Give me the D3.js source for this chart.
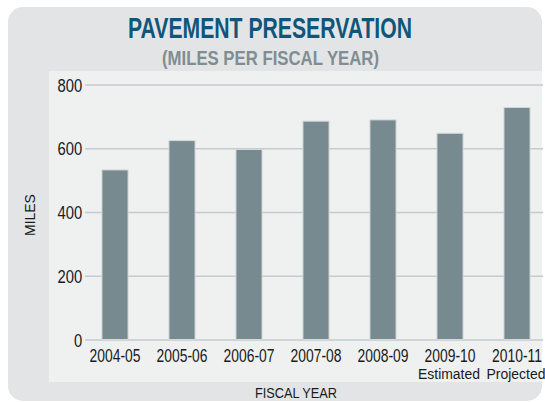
<!DOCTYPE html>
<html>
<head>
<meta charset="utf-8">
<script src="https://cdn.jsdelivr.net/npm/d3@7"></script>
<style>
  body { margin: 0; background: #fff; }
  text { font-family: "Liberation Sans", Arial, sans-serif; }
</style>
</head>
<body>
<div id="chart"></div>
<script>
// chart data
var years = ["2004-05", "2005-06", "2006-07", "2007-08", "2008-09", "2009-10", "2010-11"];
var miles = [532, 624, 596, 685, 689, 647, 728];
var notes = ["", "", "", "", "", "Estimated", "Projected"];
var yTicks = [0, 200, 400, 600, 800];

var W = 545, H = 402;

var svg = d3.select("#chart").append("svg")
	.attr("width", W)
	.attr("height", H);

// text is squeezed sideways to look like a condensed face
function label(x, y, size, sx, str) {
	return svg.append("text")
		.attr("transform", "translate(" + x + "," + y + ") scale(" + sx + ",1)")
		.attr("text-anchor", "middle")
		.style("font-size", size + "px")
		.style("fill", "#1a1a1a")
		.text(str);
}

// outer grey card
svg.append("rect")
	.attr("x", 8).attr("y", 7)
	.attr("width", 534).attr("height", 394)
	.attr("rx", 15)
	.style("fill", "#e3e4e5");

// light plot panel
svg.append("rect")
	.attr("x", 49).attr("y", 71)
	.attr("width", 493).attr("height", 311)
	.style("fill", "#eff0f0");

// titles
svg.append("text")
	.attr("x", 270).attr("y", 38)
	.attr("text-anchor", "middle")
	.attr("textLength", 284)
	.attr("lengthAdjust", "spacingAndGlyphs")
	.style("font-size", "29px")
	.style("font-weight", 700)
	.style("fill", "#10557a")
	.text("PAVEMENT PRESERVATION");

svg.append("text")
	.attr("x", 270.5).attr("y", 65)
	.attr("text-anchor", "middle")
	.attr("textLength", 217)
	.attr("lengthAdjust", "spacingAndGlyphs")
	.style("font-size", "19.5px")
	.style("font-weight", 700)
	.style("fill", "#808d92")
	.text("(MILES PER FISCAL YEAR)");

var x = d3.scaleBand()
	.domain(years)
	.range([81.5, 550.5])
	.paddingInner(0.61)
	.paddingOuter(0.305);

var y = d3.scaleLinear()
	.domain([0, 800])
	.range([339.5, 84.5]);

// gridlines + y labels
var yAxis = svg.append("g")
	.attr("transform", "translate(85,0)")
	.call(d3.axisLeft(y).tickValues(yTicks).tickSize(-458).tickPadding(3.5));
yAxis.select(".domain").remove();
yAxis.selectAll(".tick line")
	.style("stroke", "#c4cbce")
	.style("stroke-width", 1.5);
yAxis.selectAll(".tick text")
	.attr("transform", "scale(0.8,1)")
	.attr("font-family", null)
	.style("font-size", "18.5px")
	.style("fill", "#1a1a1a")
	.attr("dy", "0.36em");

// bars
svg.selectAll(".bar")
	.data(miles)
	.enter().append("rect")
	.attr("class", "bar")
	.attr("x", function(d, i) { return x(years[i]); })
	.attr("y", function(d) { return y(d); })
	.attr("width", x.bandwidth())
	.attr("height", function(d) { return y(0) - y(d); })
	.style("fill", "#778a8f")
	.style("stroke", "#d6dadc")
	.style("stroke-width", 1);

// x labels
var xAxis = svg.append("g")
	.attr("transform", "translate(0," + y(0) + ")")
	.call(d3.axisBottom(x).tickSize(0).tickPadding(9));
xAxis.select(".domain").remove();
xAxis.selectAll(".tick text")
	.attr("transform", "scale(0.75,1)")
	.attr("font-family", null)
	.style("font-size", "18.5px")
	.style("fill", "#1a1a1a")
	.attr("dy", "0.71em");

notes.forEach(function(n, i) {
	if (n) label(x(years[i]) + x.bandwidth() / 2 - 1, 379, 15.5, 0.9, n);
});

// axis titles
label(296, 398, 15, 0.85, "FISCAL YEAR");

svg.append("text")
	.attr("transform", "translate(35,215) rotate(-90) scale(0.93,1)")
	.attr("text-anchor", "middle")
	.style("font-size", "15px")
	.style("fill", "#1a1a1a")
	.text("MILES");
</script>
</body>
</html>
